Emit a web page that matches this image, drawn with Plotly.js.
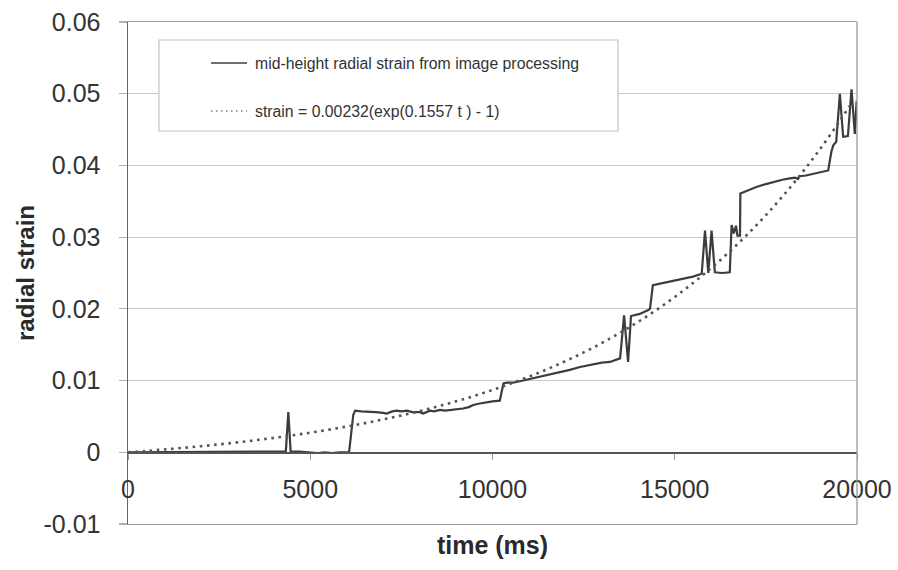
<!DOCTYPE html>
<html>
<head>
<meta charset="utf-8">
<script src="https://cdn.plot.ly/plotly-3.0.1.min.js"></script>
<style>
  html, body { margin: 0; padding: 0; background: #ffffff; }
  #chart { width: 898px; height: 570px; }
</style>
</head>
<body>
<div id="chart"></div>
<script>
// Measured mid-height radial strain (time in ms)
const timeMs = [
  0, 1000, 2000, 3000, 3950, 4000, 4330, 4398, 4463, 4700, 5000, 5200, 5400, 5600, 5800,
  6065, 6180, 6230, 6400, 6600, 6800, 7000, 7100, 7250, 7380, 7500, 7650, 7800, 8010,
  8100, 8280, 8400, 8560, 8700, 8920, 9050, 9190, 9350, 9470, 9650, 9840, 10000, 10200,
  10300, 10400, 10560, 10750, 11110, 11400, 11660, 11850, 12120, 12400, 12760, 13000,
  13220, 13500, 13610, 13720, 13800, 14040, 14260, 14320, 14400, 14590, 14800, 15060,
  15300, 15500, 15740, 15830, 15920, 16010, 16100, 16300, 16510, 16560, 16620, 16680,
  16720, 16790, 16800, 17000, 17240, 17500, 17700, 17950, 18160, 18300, 18380, 18430,
  18600, 18800, 19000, 19210, 19300, 19350, 19430, 19530, 19620, 19750, 19850, 19940,
  19990, 20000
];
const radialStrain = [
  0, 0, 0, 0, 0.0000, 0.0001, 0.0001, 0.0056, 0.0001, 0.0001, 0.0000, -0.0001, 0.0000, -0.0001, 0.0000,
  0.0000, 0.0052, 0.0058, 0.0057, 0.0057, 0.0056, 0.0055, 0.0054, 0.0057, 0.0058, 0.0057, 0.0058, 0.0056, 0.0056,
  0.0054, 0.0058, 0.0057, 0.0059, 0.0058, 0.0059, 0.0060, 0.0061, 0.0063, 0.0066, 0.0068, 0.0070, 0.0071, 0.0072,
  0.0096, 0.0097, 0.0097, 0.0099, 0.0103, 0.0106, 0.0109, 0.0111, 0.0115, 0.0119, 0.0123, 0.0125,
  0.0126, 0.0131, 0.0191, 0.0126, 0.0190, 0.0193, 0.0198, 0.0200, 0.0233, 0.0235, 0.0238, 0.0240,
  0.0243, 0.0245, 0.0249, 0.0309, 0.0250, 0.0309, 0.0251, 0.0250, 0.0251, 0.0317, 0.0305, 0.0316,
  0.0302, 0.0302, 0.0361, 0.0365, 0.0370, 0.0374, 0.0377, 0.0380, 0.0382, 0.0383, 0.0381, 0.0385,
  0.0386, 0.0388, 0.0390, 0.0393, 0.0420, 0.0428, 0.0433, 0.0500, 0.0440, 0.0441, 0.0506, 0.0444,
  0.0490, 0.0462
];

// Exponential fit named in the legend: strain = A(exp(k t) - 1), t in seconds
const fitA = 0.00232;
const fitK = 0.1557;
const fitTimeMs = [
  0, 500, 1000, 1500, 2000, 2500, 3000, 3500, 4000, 4500, 5000, 5500, 6000, 6500, 7000,
  7500, 8000, 8500, 9000, 9500, 10000, 10500, 11000, 11500, 12000, 12500, 13000, 13500,
  14000, 14500, 15000, 15500, 16000, 16500, 17000, 17500, 18000, 18500, 19000, 19500, 19800
];
const fitStrain = fitTimeMs.map(t => fitA * (Math.exp(fitK * t / 1000) - 1));

const xTickVals = [0, 5000, 10000, 15000, 20000];
const xTickText = ['0', '5000', '10000', '15000', '20000'];
const yTickVals = [-0.01, 0, 0.01, 0.02, 0.03, 0.04, 0.05, 0.06];
const yTickText = ['-0.01', '0', '0.01', '0.02', '0.03', '0.04', '0.05', '0.06'];

const seriesNames = [
  'mid-height radial strain from image processing',
  'strain = 0.00232(exp(0.1557 t ) - 1)'
];

const FONT = 'Arial, "Liberation Sans", Helvetica, sans-serif';
const yMin = -0.01, yMax = 0.06;

const traces = [
  {
    x: timeMs, y: radialStrain, name: seriesNames[0],
    type: 'scatter', mode: 'lines', xaxis: 'x', yaxis: 'y',
    line: { color: '#3c3c3c', width: 2.2 },
    showlegend: false, hoverinfo: 'skip'
  },
  {
    x: fitTimeMs, y: fitStrain, name: seriesNames[1],
    type: 'scatter', mode: 'lines', xaxis: 'x2', yaxis: 'y',
    line: { color: '#555555', width: 2.6, dash: '2.6px,4.6px', shape: 'spline' },
    showlegend: false, hoverinfo: 'skip'
  }
];

// legend box, drawn in plot-area fractions
const legBox = { x0: 0.0425, x1: 0.6722, y0: 0.7829, y1: 0.9641 };
const legRows = [0.9183, 0.8227];
const legLineX = [0.1139, 0.1632];
const legTextX = 0.1715;

const shapes = [
  // right border of the plot area
  { type: 'line', xref: 'paper', yref: 'paper', x0: 1, x1: 1, y0: 0, y1: 1,
    line: { color: '#9a9a9a', width: 1.3 } },
  // legend frame
  { type: 'rect', xref: 'paper', yref: 'paper', x0: legBox.x0, x1: legBox.x1, y0: legBox.y0, y1: legBox.y1,
    line: { color: '#c4c4c4', width: 1.2 }, fillcolor: '#ffffff', layer: 'above' },
  { type: 'line', xref: 'paper', yref: 'paper', x0: legLineX[0], x1: legLineX[1], y0: legRows[0], y1: legRows[0],
    line: { color: '#3f3f3f', width: 1.6 }, layer: 'above' },
  { type: 'line', xref: 'paper', yref: 'paper', x0: legLineX[0], x1: legLineX[1], y0: legRows[1], y1: legRows[1],
    line: { color: '#777777', width: 1.4, dash: '1.4px,3.6px' }, layer: 'above' }
];

const annotations = seriesNames.map((name, i) => ({
  xref: 'paper', yref: 'paper', x: legTextX, y: legRows[i],
  xanchor: 'left', yanchor: 'middle', showarrow: false,
  text: name, font: { family: FONT, size: 15.8, color: '#333333' }
}));

const layout = {
  width: 898, height: 570,
  margin: { l: 128, r: 41, t: 22, b: 46, pad: 0 },
  paper_bgcolor: '#ffffff', plot_bgcolor: '#ffffff',
  showlegend: false,
  font: { family: FONT, color: '#333333' },
  // bottom frame of the plot area, carries the axis title
  xaxis: {
    range: [0, 20000], anchor: 'y', side: 'bottom',
    showgrid: false, zeroline: false, showticklabels: false, ticks: '',
    showline: true, linecolor: '#9a9a9a', linewidth: 1.3, mirror: true,
    title: { text: 'time (ms)', standoff: 12,
             font: { family: FONT, size: 25, color: '#2a2a2a', weight: 'bold' } }
  },
  // labelled time axis sits on the strain = 0 line
  xaxis2: {
    range: [0, 20000], overlaying: 'x', anchor: 'free',
    position: (0 - yMin) / (yMax - yMin), side: 'bottom',
    showgrid: false, zeroline: false,
    showline: true, linecolor: '#555555', linewidth: 1.5,
    ticks: 'outside', ticklen: 6, tickcolor: '#999999', tickwidth: 1,
    tickmode: 'array', tickvals: xTickVals, ticktext: xTickText,
    ticklabelstandoff: 8,
    tickfont: { family: FONT, size: 25, color: '#333333' }
  },
  yaxis: {
    range: [yMin, yMax],
    tickmode: 'array', tickvals: yTickVals, ticktext: yTickText,
    showgrid: true, gridcolor: '#c9c9c9', gridwidth: 1.2, zeroline: false,
    showline: true, linecolor: '#666666', linewidth: 1.5,
    ticks: 'outside', ticklen: 8, tickcolor: '#b0b0b0', tickwidth: 1.2,
    ticklabelstandoff: 13,
    tickfont: { family: FONT, size: 25, color: '#333333' },
    title: { text: 'radial strain', standoff: 2,
             font: { family: FONT, size: 24, color: '#2a2a2a', weight: 'bold' } }
  },
  shapes: shapes,
  annotations: annotations
};

Plotly.newPlot('chart', traces, layout, { displayModeBar: false, staticPlot: true });
</script>
</body>
</html>
